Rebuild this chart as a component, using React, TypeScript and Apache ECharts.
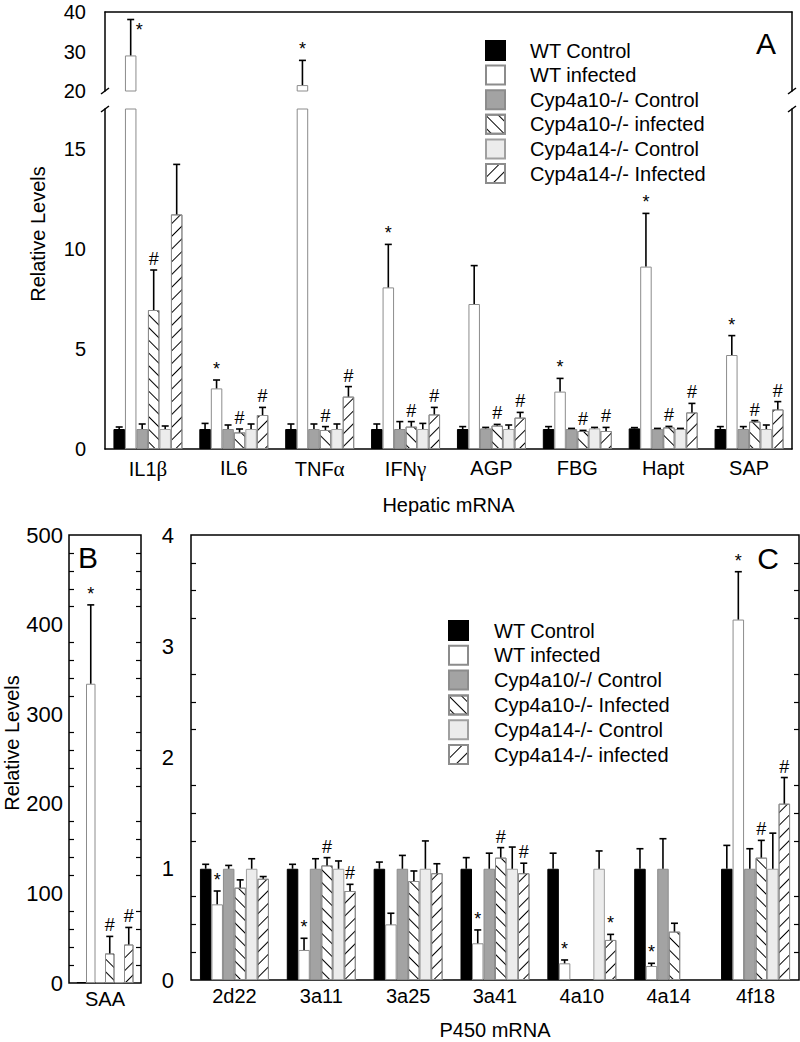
import { useEffect, useRef } from "react";
import * as echarts from "echarts";

const FONT = '"Liberation Sans", Arial, sans-serif';
const SERIF = '"Liberation Serif", "DejaVu Serif", serif';

// ---- categories ----
const hepaticGenes = ["IL1β", "IL6", "TNFα", "IFNγ", "AGP", "FBG", "Hapt", "SAP"];
const saaGenes = ["SAA"];
const p450Genes = ["2d22", "3a11", "3a25", "3a41", "4a10", "4a14", "4f18"];

const legendNamesA = [
    "WT Control",
    "WT infected",
    "Cyp4a10-/- Control",
    "Cyp4a10-/- infected",
    "Cyp4a14-/- Control",
    "Cyp4a14-/- Infected",
];
const legendNamesC = [
    "WT Control",
    "WT infected",
    "Cyp4a10/-/ Control",
    "Cyp4a10-/- Infected",
    "Cyp4a14-/- Control",
    "Cyp4a14-/- infected",
];

// ---- panel A: hepatic mRNA ----
const hepWtCtrl = [1.0, 1.0, 1.0, 1.0, 1.0, 1.0, 1.03, 1.0];
const hepWtCtrlSd = [0.1, 0.28, 0.25, 0.25, 0.12, 0.12, 0.04, 0.12];
const hepWtInf = [29.0, 3.03, 21.5, 8.08, 7.25, 2.87, 9.12, 4.7];
const hepWtInfSd = [9.1, 0.42, 6.25, 2.15, 1.92, 0.66, 2.66, 0.97];
const hepKo10Ctrl = [1.0, 1.0, 1.0, 1.0, 1.03, 1.0, 1.0, 1.0];
const hepKo10CtrlSd = [0.25, 0.2, 0.25, 0.37, 0.05, 0.03, 0.03, 0.12];
const hepKo10Inf = [6.95, 0.83, 0.95, 1.12, 1.17, 0.9, 1.08, 1.37];
const hepKo10InfSd = [2.0, 0.17, 0.17, 0.25, 0.06, 0.03, 0.05, 0.05];
const hepKo14Ctrl = [1.0, 1.0, 1.0, 1.0, 1.0, 1.03, 1.0, 1.0];
const hepKo14CtrlSd = [0.15, 0.25, 0.25, 0.28, 0.2, 0.05, 0.03, 0.2];
const hepKo14Inf = [11.73, 1.7, 2.62, 1.73, 1.57, 0.9, 1.83, 1.98];
const hepKo14InfSd = [2.5, 0.38, 0.5, 0.35, 0.26, 0.18, 0.45, 0.39];
const hepWtInfMarks = ["*", "*", "*", "*", "", "*", "*", "*"];
const hepKo10InfMarks = ["#", "#", "#", "#", "#", "#", "#", "#"];
const hepKo14InfMarks = ["", "#", "#", "#", "#", "#", "#", "#"];

// ---- panel B: SAA ----
const saaWtCtrl = [1];
const saaWtInf = [334];
const saaKo10Ctrl = [1];
const saaKo10Inf = [33];
const saaKo14Ctrl = [1];
const saaKo14Inf = [43];
const saaWtInfSd = [88];
const saaKo10InfSd = [19];
const saaKo14InfSd = [19];
const saaNoSd = [0];
const saaWtInfMarks = ["*"];
const saaKoInfMarks = ["#"];

// ---- panel C: P450 mRNA ----
const p450WtCtrl = [1, 1, 1, 1, 1, 1, 1];
const p450WtCtrlSd = [0.04, 0.04, 0.06, 0.1, 0.14, 0.18, 0.21];
const p450WtInf = [0.68, 0.27, 0.5, 0.33, 0.15, 0.126, 3.24];
const p450WtInfSd = [0.12, 0.105, 0.1, 0.12, 0.03, 0.024, 0.43];
const p450Ko10Ctrl = [1, 1, 1, 1, null, 1, 1];
const p450Ko10CtrlSd = [0.03, 0.09, 0.12, 0.14, 0, 0.27, 0.18];
const p450Ko10Inf = [0.83, 1.03, 0.89, 1.1, null, 0.435, 1.1];
const p450Ko10InfSd = [0.07, 0.07, 0.09, 0.09, 0, 0.075, 0.155];
const p450Ko14Ctrl = [1, 1, 1, 1, 1, null, 1];
const p450Ko14CtrlSd = [0.09, 0.07, 0.25, 0.195, 0.16, 0, 0.32];
const p450Ko14Inf = [0.91, 0.8, 0.96, 0.96, 0.36, null, 1.585];
const p450Ko14InfSd = [0.02, 0.06, 0.085, 0.09, 0.05, 0, 0.235];
const p450WtInfMarks = ["*", "*", "", "*", "*", "*", "*"];
const p450Ko10InfMarks = ["", "#", "", "#", "", "", "#"];
const p450Ko14InfMarks = ["", "#", "", "#", "*", "", "#"];

const hatch = (rotation: number) => ({
    symbol: "rect",
    symbolSize: 1,
    color: "#000",
    dashArrayX: [1, 0],
    dashArrayY: [0.9, 7.5],
    rotation,
});

// fill of the six groups, in legend order
const groupStyles: any[] = [
    { color: "#000", borderColor: "#000", borderWidth: 1 },
    { color: "#fff", borderColor: "#8c8c8c", borderWidth: 1 },
    { color: "#a3a3a3", borderColor: "#8c8c8c", borderWidth: 1 },
    { color: "#fff", borderColor: "#8c8c8c", borderWidth: 1, decal: hatch(Math.PI / 4) },
    { color: "#ececec", borderColor: "#a0a0a0", borderWidth: 1 },
    { color: "#fff", borderColor: "#8c8c8c", borderWidth: 1, decal: hatch(-Math.PI / 4) },
];

type Num = number | null;

function barSeries(names: string[], groups: Num[][], xAxisIndex: number, yAxisIndex: number, barWidth: number) {
    return groups.map((vals, g) => ({
        type: "bar",
        name: names[g],
        xAxisIndex,
        yAxisIndex,
        data: vals.map((v) => (v === null ? "-" : v)),
        barWidth,
        barGap: "0%",
        clip: true,
        silent: true,
        itemStyle: groupStyles[g],
    }));
}

function errorSeries(
    groups: Num[][],
    sds: number[][],
    marks: (string[] | null)[],
    xAxisIndex: number,
    yAxisIndex: number,
    barWidth: number
) {
    return groups.map((vals, g) => ({
        type: "custom",
        xAxisIndex,
        yAxisIndex,
        silent: true,
        z: 5,
        data: vals.map((v, i) => [i, v === null ? NaN : v, sds[g][i] ?? 0]),
        renderItem: (params: any, api: any) => {
            const cat = api.value(0);
            const v = api.value(1);
            const sd = api.value(2);
            if (isNaN(v)) return null;
            const cs = params.coordSys;
            const p0 = api.coord([cat, v]);
            const p1 = api.coord([cat, v + sd]);
            if (p0[1] < cs.y - 1 || p0[1] > cs.y + cs.height + 1) return null;
            const x = p0[0] + (g - 2.5) * barWidth;
            const children: any[] = [];
            if (sd > 0) {
                children.push(
                    { type: "line", shape: { x1: x, y1: p0[1], x2: x, y2: p1[1] }, style: { stroke: "#000", lineWidth: 1.6 } },
                    { type: "line", shape: { x1: x - 3.5, y1: p1[1], x2: x + 3.5, y2: p1[1] }, style: { stroke: "#000", lineWidth: 1.6 } }
                );
            }
            const mark = marks[g]?.[params.dataIndex];
            if (mark) {
                const tooHigh = p1[1] - 20 < cs.y;
                children.push({
                    type: "text",
                    x: tooHigh ? x + 5 : x,
                    y: tooHigh ? p1[1] + 1 : p1[1] - 2,
                    style: {
                        text: mark,
                        fill: "#000",
                        fontSize: 18,
                        fontFamily: FONT,
                        align: tooHigh ? "left" : "center",
                        verticalAlign: tooHigh ? "top" : "bottom",
                    },
                });
            }
            return { type: "group", children };
        },
    }));
}

const axisLine = { show: true, lineStyle: { color: "#000", width: 1.5 } };
const labelStyle = (fontSize: number, margin: number) => ({ color: "#000", fontSize, fontFamily: FONT, margin });

// greek letters of the gene names are set in a serif face, as in the figure
const greekLabel = (v: string) => v.replace(/([α-ω])/g, "{g|$1}");

export default function App() {
    const chartRef = useRef<HTMLDivElement | null>(null);

    useEffect(() => {
        if (!chartRef.current) return;
        document.body.style.margin = "0";
        const chart = echarts.init(chartRef.current, undefined, { renderer: "svg" });

        const hepGroups = [hepWtCtrl, hepWtInf, hepKo10Ctrl, hepKo10Inf, hepKo14Ctrl, hepKo14Inf];
        const hepSds = [hepWtCtrlSd, hepWtInfSd, hepKo10CtrlSd, hepKo10InfSd, hepKo14CtrlSd, hepKo14InfSd];
        const hepMarks = [null, hepWtInfMarks, null, hepKo10InfMarks, null, hepKo14InfMarks];

        const saaGroups = [saaWtCtrl, saaWtInf, saaKo10Ctrl, saaKo10Inf, saaKo14Ctrl, saaKo14Inf];
        const saaSds = [saaNoSd, saaWtInfSd, saaNoSd, saaKo10InfSd, saaNoSd, saaKo14InfSd];
        const saaMarks = [null, saaWtInfMarks, null, saaKoInfMarks, null, saaKoInfMarks];

        const p450Groups = [p450WtCtrl, p450WtInf, p450Ko10Ctrl, p450Ko10Inf, p450Ko14Ctrl, p450Ko14Inf];
        const p450Sds = [p450WtCtrlSd, p450WtInfSd, p450Ko10CtrlSd, p450Ko10InfSd, p450Ko14CtrlSd, p450Ko14InfSd];
        const p450Marks = [null, p450WtInfMarks, null, p450Ko10InfMarks, null, p450Ko14InfMarks];

        const lowerTicks = [0, 2.5, 5, 7.5, 10, 12.5, 15];
        const lowerLabels = [0, 5, 10, 15];

        const breakMark = (x: number, y: number) => ({
            type: "line",
            shape: { x1: x - 4, y1: y + 3, x2: x + 4, y2: y - 3 },
            style: { stroke: "#000", lineWidth: 1.5 },
        });

        const tickStyle = { color: "#000", width: 1.2 };

        const option: any = {
            animation: false,
            backgroundColor: "#fff",
            textStyle: { fontFamily: FONT },
            grid: [
                { left: 105, right: 8, top: 12, height: 79, outerBoundsMode: "none" },
                { left: 105, right: 8, top: 109, height: 340, outerBoundsMode: "none" },
                { left: 69, width: 72, top: 535, height: 448, outerBoundsMode: "none", show: true, borderColor: "#000", borderWidth: 1.5 },
                { left: 191, right: 1, top: 535, height: 445, outerBoundsMode: "none", show: true, borderColor: "#000", borderWidth: 1.5 },
            ],
            xAxis: [
                { type: "category", gridIndex: 0, position: "top", data: hepaticGenes, axisLine, axisTick: { show: false }, axisLabel: { show: false } },
                {
                    type: "category",
                    gridIndex: 1,
                    data: hepaticGenes,
                    axisLine,
                    axisTick: { show: false },
                    axisLabel: {
                        ...labelStyle(20, 9),
                        interval: 0,
                        formatter: greekLabel,
                        rich: { g: { fontFamily: SERIF, fontSize: 21, color: "#000" } },
                    },
                    name: "Hepatic mRNA",
                    nameLocation: "middle",
                    nameGap: 46,
                    nameTextStyle: { color: "#000", fontSize: 20, fontFamily: FONT },
                },
                {
                    type: "category",
                    gridIndex: 2,
                    data: saaGenes,
                    axisLine: { show: false },
                    axisTick: { show: false },
                    axisLabel: { ...labelStyle(20, 6), interval: 0 },
                },
                {
                    type: "category",
                    gridIndex: 3,
                    data: p450Genes,
                    axisLine: { show: false },
                    axisTick: { show: false },
                    axisLabel: { ...labelStyle(20, 6), interval: 0 },
                    name: "P450 mRNA",
                    nameLocation: "middle",
                    nameGap: 40,
                    nameTextStyle: { color: "#000", fontSize: 20, fontFamily: FONT },
                },
            ],
            yAxis: [
                {
                    type: "value", gridIndex: 0, min: 20, max: 40, interval: 10,
                    axisLine, axisTick: { inside: true, length: 5, lineStyle: tickStyle },
                    axisLabel: labelStyle(20, 19), splitLine: { show: false },
                },
                {
                    type: "value", gridIndex: 0, position: "right", min: 20, max: 40, interval: 10,
                    axisLine, axisTick: { inside: true, length: 5, lineStyle: tickStyle },
                    axisLabel: { show: false }, splitLine: { show: false },
                },
                {
                    type: "value", gridIndex: 1, min: 0, max: 17,
                    axisLine,
                    axisTick: { inside: true, length: 5, customValues: lowerTicks, lineStyle: tickStyle },
                    axisLabel: { ...labelStyle(20, 19), customValues: lowerLabels },
                    splitLine: { show: false },
                },
                {
                    type: "value", gridIndex: 1, position: "right", min: 0, max: 17,
                    axisLine,
                    axisTick: { inside: true, length: 5, customValues: lowerTicks, lineStyle: tickStyle },
                    axisLabel: { show: false },
                    splitLine: { show: false },
                },
                {
                    type: "value", gridIndex: 2, min: 0, max: 500, interval: 100,
                    axisLine: { show: false },
                    axisTick: { inside: true, length: 5, lineStyle: tickStyle },
                    minorTick: { show: true, splitNumber: 5, length: 5, lineStyle: tickStyle },
                    axisLabel: labelStyle(22, 6), splitLine: { show: false },
                },
                {
                    type: "value", gridIndex: 2, position: "right", min: 0, max: 500, interval: 100,
                    axisLine: { show: false },
                    axisTick: { inside: true, length: 5, lineStyle: tickStyle },
                    minorTick: { show: true, splitNumber: 5, length: 5, lineStyle: tickStyle },
                    axisLabel: { show: false }, splitLine: { show: false },
                },
                {
                    type: "value", gridIndex: 3, min: 0, max: 4, interval: 1,
                    axisLine: { show: false },
                    axisTick: { inside: true, length: 5, lineStyle: tickStyle },
                    minorTick: { show: true, splitNumber: 4, length: 5, lineStyle: tickStyle },
                    axisLabel: labelStyle(22, 17), splitLine: { show: false },
                },
                {
                    type: "value", gridIndex: 3, position: "right", min: 0, max: 4, interval: 1,
                    axisLine: { show: false },
                    axisTick: { inside: true, length: 5, lineStyle: tickStyle },
                    minorTick: { show: true, splitNumber: 4, length: 5, lineStyle: tickStyle },
                    axisLabel: { show: false }, splitLine: { show: false },
                },
            ],
            legend: [
                {
                    data: legendNamesA,
                    orient: "vertical",
                    left: 485,
                    top: 40,
                    padding: 0,
                    itemWidth: 19,
                    itemHeight: 19,
                    itemGap: 3.6,
                    icon: "rect",
                    selectedMode: false,
                    textStyle: { color: "#000", fontSize: 20, fontFamily: FONT, lineHeight: 19, padding: [0, 0, 0, 20] },
                },
                {
                    data: legendNamesC,
                    orient: "vertical",
                    left: 448,
                    top: 620,
                    padding: 0,
                    itemWidth: 19,
                    itemHeight: 19,
                    itemGap: 3.8,
                    icon: "rect",
                    selectedMode: false,
                    textStyle: { color: "#000", fontSize: 20, fontFamily: FONT, lineHeight: 19, padding: [0, 0, 0, 21] },
                },
            ],
            graphic: [
                { type: "text", x: 766, y: 43, style: { text: "A", fontSize: 30, fontFamily: FONT, fill: "#000", align: "center", verticalAlign: "middle" } },
                { type: "text", x: 88, y: 557, style: { text: "B", fontSize: 30, fontFamily: FONT, fill: "#000", align: "center", verticalAlign: "middle" } },
                { type: "text", x: 768, y: 558, style: { text: "C", fontSize: 30, fontFamily: FONT, fill: "#000", align: "center", verticalAlign: "middle" } },
                { type: "text", x: 38, y: 234, rotation: Math.PI / 2, style: { text: "Relative Levels", fontSize: 20, fontFamily: FONT, fill: "#000", align: "center", verticalAlign: "middle" } },
                { type: "text", x: 12, y: 743, rotation: Math.PI / 2, style: { text: "Relative Levels", fontSize: 20, fontFamily: FONT, fill: "#000", align: "center", verticalAlign: "middle" } },
                breakMark(105, 91),
                breakMark(105, 109),
                breakMark(792, 91),
                breakMark(792, 109),
            ],
            series: [
                ...barSeries(legendNamesA, hepGroups, 1, 2, 11.5),
                ...barSeries(legendNamesC, p450Groups, 3, 6, 11.5),
                ...barSeries(legendNamesA, hepGroups, 0, 0, 11.5),
                ...barSeries(legendNamesA, saaGroups, 2, 4, 9.5),
                ...errorSeries(hepGroups, hepSds, hepMarks, 1, 2, 11.5),
                ...errorSeries(hepGroups, hepSds, hepMarks, 0, 0, 11.5),
                ...errorSeries(saaGroups, saaSds, saaMarks, 2, 4, 9.5),
                ...errorSeries(p450Groups, p450Sds, p450Marks, 3, 6, 11.5),
            ],
        };

        chart.setOption(option);

        return () => {
            chart.dispose();
        };
    }, []);

    return <div ref={chartRef} style={{ width: 800, height: 1042 }} />;
}
